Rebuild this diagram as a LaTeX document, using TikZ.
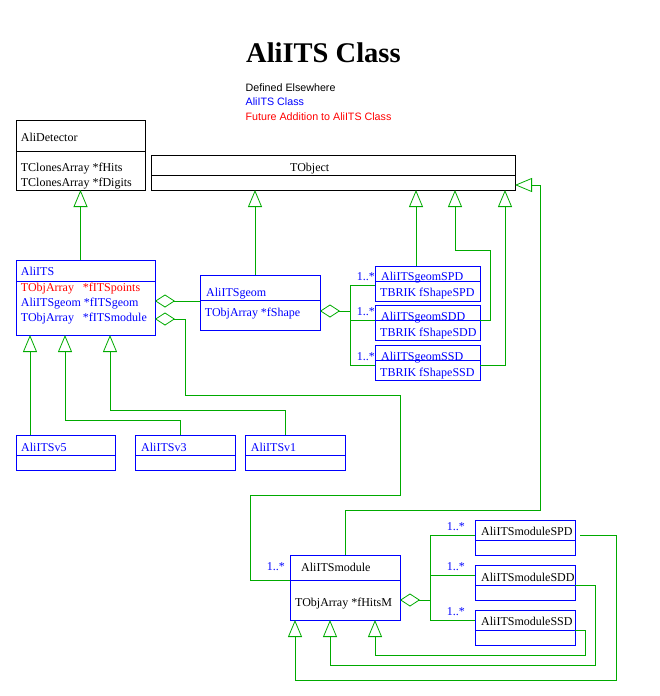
\documentclass[tikz,border=0pt]{standalone}
\usepackage{fontspec}
\setmainfont{Liberation Serif}
\newfontfamily\legfont{Liberation Sans}
\usetikzlibrary{arrows.meta}
\definecolor{lgreen}{RGB}{0,170,0}
\begin{document}
\begin{tikzpicture}[x=1pt,y=-1pt,
  cls/.style={draw=#1, line width=1pt, inner sep=0pt, outer sep=0pt, anchor=north west},
  txt/.style={anchor=base west, inner sep=0pt, font=\fontsize{12}{14}\selectfont, text=#1},
  txt/.default=black,
  divline/.style={draw=#1, line width=1pt},
  inh/.style={draw=lgreen, line width=0.8pt, -{Triangle[open, length=17pt, width=14pt, line width=0.8pt]}},
  agg/.style={draw=lgreen, line width=0.8pt, {Diamond[open, length=20pt, width=13pt, line width=0.8pt]}-},
  lnk/.style={draw=lgreen, line width=0.8pt},
  mult/.style={anchor=base west, inner sep=0pt, font=\fontsize{12}{14}\selectfont, text=blue},
  legend/.style={anchor=base west, inner sep=0pt, font=\legfont\fontsize{10.7}{12}\selectfont, text=#1}]
\useasboundingbox (0,0) rectangle (659,696);

% title and legend
\node[anchor=base west, inner sep=0pt, font=\bfseries\fontsize{28.5}{32}\selectfont] (title) at (246,62) {AliITS Class};
\node[legend=black] (leg1) at (245.5,91) {Defined Elsewhere};
\node[legend=blue] (leg2) at (245.5,105.3) {AliITS Class};
\node[legend=red] (leg3) at (245.5,120.7) {Future Addition to AliITS Class};

% boxes
\node[cls=black, minimum width=129pt, minimum height=70pt] (det) at (16,120) {};
\node[cls=black, minimum width=364pt, minimum height=35pt] (tobj) at (151,155) {};
\node[cls=blue, minimum width=139pt, minimum height=75pt] (aliits) at (16,260) {};
\node[cls=blue, minimum width=120pt, minimum height=55pt] (geom) at (200,275) {};
\node[cls=blue, minimum width=105pt, minimum height=35pt] (gSPD) at (375,266) {};
\node[cls=blue, minimum width=105pt, minimum height=35pt] (gSDD) at (375,305) {};
\node[cls=blue, minimum width=105pt, minimum height=35pt] (gSSD) at (375,345) {};
\node[cls=blue, minimum width=99pt, minimum height=35pt] (v5) at (16,435) {};
\node[cls=blue, minimum width=100pt, minimum height=35pt] (v3) at (135,435) {};
\node[cls=blue, minimum width=100pt, minimum height=35pt] (v1) at (245,435) {};
\node[cls=blue, minimum width=110pt, minimum height=65pt] (mod) at (290,555) {};
\node[cls=blue, minimum width=100pt, minimum height=35pt] (mSPD) at (475,520) {};
\node[cls=blue, minimum width=100pt, minimum height=35pt] (mSDD) at (475,565) {};
\node[cls=blue, minimum width=100pt, minimum height=35pt] (mSSD) at (475,610) {};

% dividers
\draw[divline=black] (det.west |- 0,151) -- (det.east |- 0,151);
\draw[divline=black] (tobj.west |- 0,175) -- (tobj.east |- 0,175);
\draw[divline=blue] (aliits.west |- 0,281) -- (aliits.east |- 0,281);
\draw[divline=blue] (geom.west |- 0,300) -- (geom.east |- 0,300);
\draw[divline=blue] (gSPD.west |- 0,281) -- (gSPD.east |- 0,281);
\draw[divline=blue] (gSDD.west |- 0,320) -- (gSDD.east |- 0,320);
\draw[divline=blue] (gSSD.west |- 0,360) -- (gSSD.east |- 0,360);
\draw[divline=blue] (v5.west |- 0,455) -- (v5.east |- 0,455);
\draw[divline=blue] (v3.west |- 0,455) -- (v3.east |- 0,455);
\draw[divline=blue] (v1.west |- 0,455) -- (v1.east |- 0,455);
\draw[divline=blue] (mod.west |- 0,580) -- (mod.east |- 0,580);
\draw[divline=blue] (mSPD.west |- 0,540) -- (mSPD.east |- 0,540);
\draw[divline=blue] (mSDD.west |- 0,585) -- (mSDD.east |- 0,585);
\draw[divline=blue] (mSSD.west |- 0,630) -- (mSSD.east |- 0,630);

% box texts
\node[txt] (tdet) at (20.7,141) {AliDetector};
\node[txt] (tdet1) at (20.7,171.7) {TClonesArray *fHits};
\node[txt] (tdet2) at (20.7,186.5) {TClonesArray *fDigits};
\node[txt] (ttobj) at (290,171) {TObject};
\node[txt=blue] (tits) at (20.7,275.7) {AliITS};
\node[txt=red] (tits1a) at (20.7,291) {TObjArray};
\node[txt=red] (tits1b) at (82.7,291) {*fITSpoints};
\node[txt=blue] (tits2) at (20.7,306.7) {AliITSgeom *fITSgeom};
\node[txt=blue] (tits3a) at (20.7,321.3) {TObjArray};
\node[txt=blue] (tits3b) at (82.7,321.3) {*fITSmodule};
\node[txt=blue] (tgeom) at (206,296.5) {AliITSgeom};
\node[txt=blue] (tgeom1) at (204.7,316.3) {TObjArray *fShape};
\node[txt=blue] (tgspd) at (381,280.5) {AliITSgeomSPD};
\node[txt=blue] (tgspd1) at (380,296) {TBRIK fShapeSPD};
\node[txt=blue] (tgsdd) at (381,320.5) {AliITSgeomSDD};
\node[txt=blue] (tgsdd1) at (380,336) {TBRIK fShapeSDD};
\node[txt=blue] (tgssd) at (381,360.5) {AliITSgeomSSD};
\node[txt=blue] (tgssd1) at (380,376) {TBRIK fShapeSSD};
\node[txt=blue] (tv5) at (21,451) {AliITSv5};
\node[txt=blue] (tv3) at (141,451) {AliITSv3};
\node[txt=blue] (tv1) at (250.7,451) {AliITSv1};
\node[txt] (tmod) at (301,571) {AliITSmodule};
\node[txt] (tmod1) at (295,606) {TObjArray *fHitsM};
\node[txt] (tmspd) at (481,535.3) {AliITSmoduleSPD};
\node[txt] (tmsdd) at (481,581) {AliITSmoduleSDD};
\node[txt] (tmssd) at (481,625.7) {AliITSmoduleSSD};

% multiplicities
\node[mult] (m1) at (356.7,280) {1..*};
\node[mult] (m2) at (356.7,315.7) {1..*};
\node[mult] (m3) at (356.7,360.7) {1..*};
\node[mult] (m4) at (446.7,530) {1..*};
\node[mult] (m5) at (446.7,570) {1..*};
\node[mult] (m6) at (446.7,615) {1..*};
\node[mult] (m7) at (266.7,570) {1..*};

% inheritance
\draw[inh] (aliits.north -| det.south) -- (det.south);
\draw[inh] ([xshift=-5pt]geom.north) -- ([xshift=-5pt]geom.north |- tobj.south);
\draw[inh] ([xshift=-11.5pt]gSPD.north) -- ([xshift=-11.5pt]gSPD.north |- tobj.south);
\draw[inh] (gSDD.east |- 0,320) -| (490,250) -| (tobj.south -| 455,0);
\draw[inh] (gSSD.east |- 0,365) -| (tobj.south -| 505,0);
\draw[inh] (mod.north) |- (540,510) |- (tobj.east |- 0,185);
\draw[inh] (v5.north -| 30,0) -- (aliits.south -| 30,0);
\draw[inh] ([xshift=-5pt]v3.north) |- (65,420) -- (aliits.south -| 65,0);
\draw[inh] ([xshift=-10pt]v1.north) |- (110,410) -- (aliits.south -| 110,0);
\draw[inh] ([xshift=5pt]mSPD.east |- 0,535) -| (616,680) -| (mod.south -| 295,0);
\draw[inh] (mSDD.east |- 0,585) -| (595,665) -| (mod.south -| 330,0);
\draw[inh] (mSSD.east |- 0,630) -| (585,655) -| (mod.south -| 375,0);

% aggregation
\draw[agg] (aliits.east |- 0,301) -- (geom.west |- 0,301);
\draw[agg] (aliits.east |- 0,319) -| (185,395) -| (400,495) -| (250,580) -- (mod.west |- 0,580);
\draw[agg] (geom.east |- 0,311) -- (350,311);
\draw[lnk] (gSPD.west |- 0,285) -| (350,365) -- (gSSD.west |- 0,365);
\draw[lnk] (350,320) -- (gSDD.west |- 0,320);
\draw[agg] (mod.east |- 0,600) -- (430,600);
\draw[lnk] (mSPD.west |- 0,535) -| (430,620) -- (mSSD.west |- 0,620);
\draw[lnk] (430,575) -- (mSDD.west |- 0,575);
\end{tikzpicture}
\end{document}
